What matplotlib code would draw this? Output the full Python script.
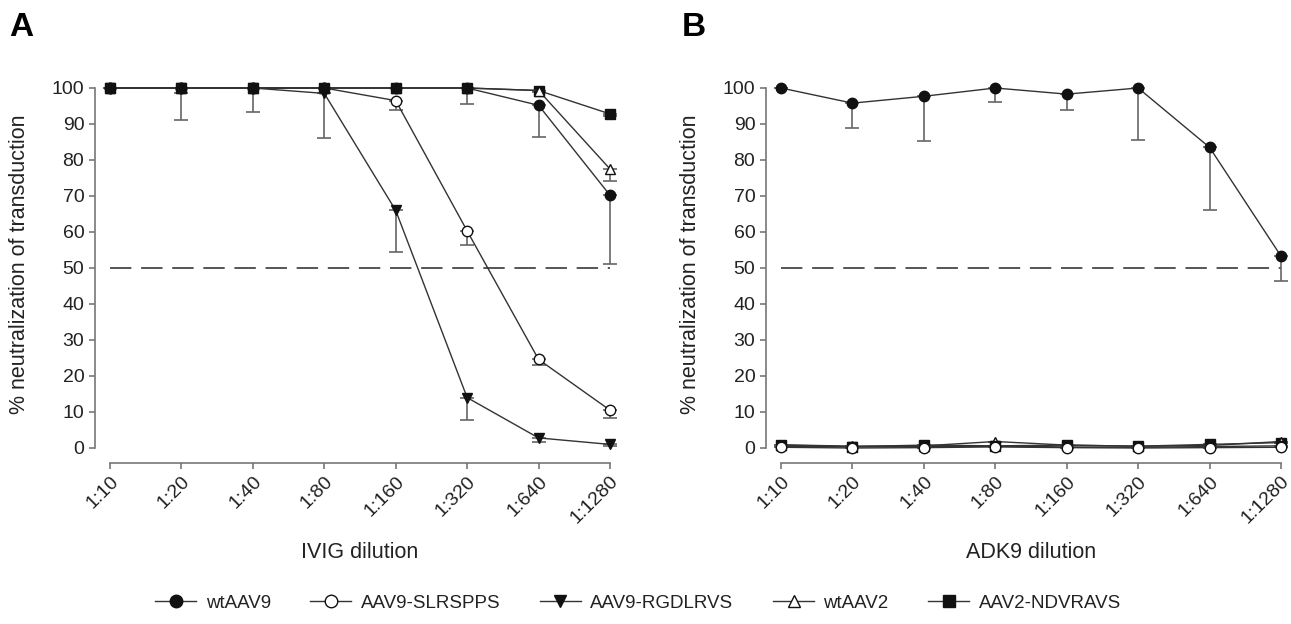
import matplotlib.pyplot as plt
import numpy as np

plt.rcParams["font.family"] = ["Liberation Sans", "DejaVu Sans"]

dilutions = ["1:10", "1:20", "1:40", "1:80", "1:160", "1:320", "1:640", "1:1280"]
series_names = ["wtAAV9", "AAV9-SLRSPPS", "AAV9-RGDLRVS", "wtAAV2", "AAV2-NDVRAVS"]

# panel A: IVIG (mean, lower error)
ivig_wtaav9 = [100, 100, 100, 100, 100, 100, 95.2, 70.2]
ivig_wtaav9_err = [0, 8.8, 6.8, 0, 0, 4.5, 8.8, 19.0]
ivig_slrspps = [100, 100, 100, 100, 96.5, 60.3, 24.6, 10.5]
ivig_slrspps_err = [0, 0, 0, 0, 2.6, 3.8, 1.6, 2.2]
ivig_rgdlrvs = [100, 100, 100, 98.5, 66.0, 14.0, 2.8, 1.0]
ivig_rgdlrvs_err = [0, 0, 0, 12.5, 11.5, 6.2, 1.0, 0.4]
ivig_wtaav2 = [100, 100, 100, 100, 100, 100, 99.3, 77.5]
ivig_wtaav2_err = [0, 1.5, 0, 0, 0, 0, 0, 3.2]
ivig_ndvravs = [100, 100, 100, 100, 100, 100, 99.3, 92.8]
ivig_ndvravs_err = [0, 0, 0, 0, 0, 0, 0.4, 0.6]

# panel B: ADK9
adk9_wtaav9 = [100, 95.8, 97.7, 100, 98.3, 100, 83.5, 53.3]
adk9_wtaav9_err = [0, 6.9, 12.5, 3.8, 4.5, 14.5, 17.5, 6.8]
adk9_slrspps = [0.2, 0.0, 0.1, 0.3, 0.1, 0.0, 0.1, 0.2]
adk9_slrspps_err = [0, 0, 0, 0, 0, 0, 0, 0]
adk9_rgdlrvs = [0.5, 0.3, 0.4, 0.5, 0.3, 0.2, 0.4, 0.6]
adk9_rgdlrvs_err = [0, 0, 0, 0, 0, 0, 0, 0]
adk9_wtaav2 = [0.9, 0.5, 0.6, 1.8, 0.8, 0.5, 0.7, 1.8]
adk9_wtaav2_err = [0, 0, 0, 0, 0, 0, 0, 0]
adk9_ndvravs = [0.8, 0.4, 0.8, 0.6, 0.8, 0.5, 1.0, 1.5]
adk9_ndvravs_err = [0, 0, 0, 0, 0, 0, 0, 0]

markers = ["o", "o", "v", "^", "s"]
faces = ["#111111", "white", "#111111", "white", "#111111"]

panels = [
    ("IVIG dilution", [ivig_wtaav9, ivig_slrspps, ivig_rgdlrvs, ivig_wtaav2, ivig_ndvravs],
     [ivig_wtaav9_err, ivig_slrspps_err, ivig_rgdlrvs_err, ivig_wtaav2_err, ivig_ndvravs_err]),
    ("ADK9 dilution", [adk9_wtaav9, adk9_slrspps, adk9_rgdlrvs, adk9_wtaav2, adk9_ndvravs],
     [adk9_wtaav9_err, adk9_slrspps_err, adk9_rgdlrvs_err, adk9_wtaav2_err, adk9_ndvravs_err]),
]

fig = plt.figure(figsize=(12.91, 6.24), dpi=100)
lefts = [110 / 1291, 781 / 1291]
x = np.arange(len(dilutions))
handles = []
for i, (xlabel, values, errs) in enumerate(panels):
    ax = fig.add_axes([lefts[i], 176 / 624, 500 / 1291, 360 / 624])
    ax.axhline(50, color="#555555", lw=1.4, ls=(0, (11, 5)), zorder=1)
    # plot in reverse so wtAAV9 sits on top
    for k in reversed(range(len(values))):
        ax.errorbar(x, values[k], yerr=[errs[k], np.zeros(len(x))], fmt="none",
                    ecolor="#666666", elinewidth=1.2, capsize=5, capthick=1.2,
                    clip_on=False, zorder=2)
        h, = ax.plot(x, values[k], color="#333333", lw=1.0, marker=markers[k],
                     markersize=7.5, markerfacecolor=faces[k], markeredgecolor="#111111",
                     markeredgewidth=1.0, clip_on=False, zorder=3, label=series_names[k])
        if i == 0:
            handles.insert(0, h)
    ax.set_xlim(0, 7)
    ax.set_ylim(0, 100)
    ax.set_yticks(range(0, 101, 10))
    ax.set_xticks(x)
    for s in ["top", "right"]:
        ax.spines[s].set_visible(False)
    ax.spines["left"].set_position(("outward", 11))
    ax.spines["bottom"].set_position(("outward", 11))
    for s in ["left", "bottom"]:
        ax.spines[s].set_color("#777777")
        ax.spines[s].set_linewidth(1.2)
    ax.tick_params(axis="both", colors="#777777", labelcolor="#222222",
                   labelsize=14, length=4, width=1.2)
    ax.tick_params(axis="x", pad=3)
    ax.set_xticklabels(dilutions, rotation=45, ha="right", rotation_mode="anchor")
    ax.set_ylabel("% neutralization of transduction", fontsize=15.5, color="#222222")
    ax.yaxis.set_label_coords(-0.16, 0.51)
    ax.set_xlabel(xlabel, fontsize=15.5, color="#222222")
    ax.xaxis.set_label_coords(0.5, -0.26)

fig.text(9 / 1291, 1 - 28 / 624, "A", fontsize=24, fontweight="bold", va="center")
fig.text(682 / 1291, 1 - 28 / 624, "B", fontsize=24, fontweight="bold", va="center")

fig.legend(handles=handles, labels=series_names, loc="center", ncol=5,
           bbox_to_anchor=(638 / 1291, 1 - 603 / 624), frameon=False, fontsize=13.5,
           handlelength=2.2, columnspacing=2.1, handletextpad=0.5, labelcolor="#222222",
           markerscale=1.2)

fig.savefig("out.png", dpi=100)
